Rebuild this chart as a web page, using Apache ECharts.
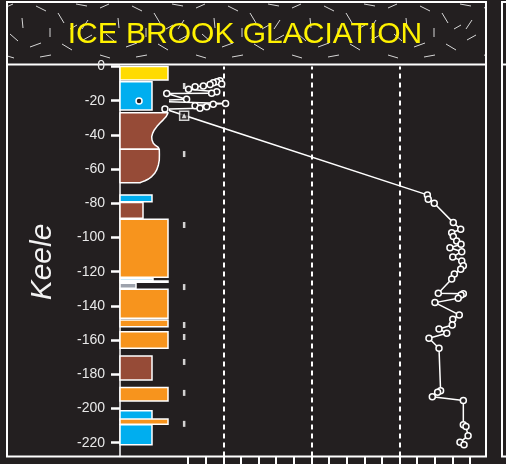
<!DOCTYPE html>
<html>
<head>
<meta charset="utf-8">
<script src="https://cdn.jsdelivr.net/npm/echarts@6/dist/echarts.min.js"></script>
<style>
  html, body { margin: 0; padding: 0; background: #231f20; }
  #chart { width: 506px; height: 464px; }
</style>
</head>
<body>
<div id="chart"></div>
<script>
// Depth axis (m) and its labelled ticks
const depthMin = -228.1;
const depthTicks = [0, -20, -40, -60, -80, -100, -120, -140, -160, -180, -200, -220];

// Proxy axis range and tick positions along the bottom
const proxyMax = 18;
const proxyTicks = [1, 2, 3, 4, 5, 6, 7, 8, 9, 10, 11, 12, 13, 14, 15, 16, 17];
const proxyGuides = [3, 8, 13];

// Rectangular lithologic units: top, base, grain-size index, lithology
const unitTop   = [0,    -8.9,  -75.1, -79.6, -89.4,  -123.9, -125.5, -126.8, -130.3, -148.2, -155.1, -169.3, -187.8, -201.3, -206.1, -209.6];
const unitBase  = [-7.9, -25.4, -79.1, -88.8, -123.3, -125.3, -126.2, -129.7, -147.3, -152.2, -164.8, -183.3, -195.6, -206.7, -209.2, -221.3];
const unitGrain = [4.8,  3.2,   3.2,   2.3,   4.8,    3.3,    4.8,    1.6,    4.8,    4.8,    4.8,    3.2,    4.8,    3.2,    4.8,    3.2];
const unitLith  = ['sand', 'mud', 'mud', 'diamicton', 'gravel', 'laminated', 'blank', 'silt',
                   'gravel', 'gravel', 'gravel', 'diamicton', 'gravel', 'mud', 'gravel', 'mud'];

// Diamicton units with a graded right-hand profile: depth and grain-size index
const profileDepthA = [-27.0, -28.2, -29.4, -31.2, -33.0, -35.0, -37.1, -39.1, -41.1, -43.0, -44.9, -46.2, -47.3, -48.4];
const profileGrainA = [4.8,   4.72,  4.6,   4.32,  4.0,   3.7,   3.43,  3.26,  3.17,  3.2,   3.33,  3.55,  3.83,  3.9];
const profileDepthB = [-48.4, -51.5, -54.7, -57.6, -60.5, -62.6, -64.4, -65.8, -66.8, -67.5, -68.0];
const profileGrainB = [3.93,  3.94,  3.93,  3.84,  3.67,  3.45,  3.17,  2.85,  2.5,   2.2,   2.0];

// Proxy record down the section
const proxyValue = [2.81, 2.63, 2.43, 2.91, 2.25, 1.87, 1.40, 1.03, 2.63, 2.34, -0.21, 0.92, -1.78, 3.13, 2.43, 1.40, 2.06, 1.68, -0.31,
  14.58, 14.63, 14.97, 16.05, 16.47, 15.96, 16.05, 16.24, 16.49, 15.86, 16.53, 16.02, 16.53, 16.62, 16.47, 16.11, 15.96,
  15.20, 16.62, 16.49, 16.33, 15.01, 16.39, 16.02, 15.99, 15.24, 15.68, 14.67, 15.24, 15.33, 15.16, 14.86, 16.62,
  16.62, 16.77, 16.89, 16.43, 16.66];
const proxyDepth = [-8.3, -8.9, -9.5, -10.2, -10.5, -11.4, -11.8, -13.3, -14.7, -15.7, -15.8, -19.2, -20.2, -21.6, -22.1, -22.9, -23.5, -24.4, -24.9,
  -75.1, -77.7, -80.0, -91.3, -95.2, -97.2, -99.5, -102.0, -104.0, -106.0, -108.3, -111.4, -113.7, -116.5, -118.6, -121.3, -124.3,
  -132.6, -132.9, -133.6, -135.6, -138.1, -145.3, -147.8, -151.2, -153.5, -156.0, -158.9, -164.8, -189.6, -190.5, -193.1, -195.4,
  -209.6, -210.6, -215.9, -219.8, -221.3];

// Sample positions and the dated sample
const sampleColumn = 0.78;
const sampleDepth = [-11.4, -51.2, -92.7, -129.0, -151.2, -158.2, -172.8, -190.9, -209.0];
const datedDepth = [-28.8];

const lithColor = {
  sand: '#ffdb00', mud: '#00aeef', diamicton: '#964b37', gravel: '#f7941d',
  laminated: '#cde9f7', blank: '#231f20', silt: '#9da2ac'
};
const BG = '#231f20';

// Patterned fill for the title band
function bandPattern() {
  const c = document.createElement('canvas');
  c.width = 96; c.height = 62;
  const g = c.getContext('2d');
  g.fillStyle = BG; g.fillRect(0, 0, c.width, c.height);
  g.strokeStyle = '#d6d6d6'; g.lineWidth = 1;
  const strokes = [[4,8,13,4],[22,18,23,28],[36,6,46,11],[58,13,64,23],[76,4,87,6],[88,20,82,29],
    [10,34,18,41],[30,47,41,43],[50,28,50,37],[62,44,72,50],[83,40,92,35],[4,55,14,58],[40,57,51,55],[70,29,77,25]];
  strokes.forEach(s => { g.beginPath(); g.moveTo(s[0], s[1]); g.lineTo(s[2], s[3]); g.stroke(); });
  return c;
}

const unitData = unitTop.map((t, i) => [t, unitBase[i], unitGrain[i], i]);
const profiles = [[profileDepthA, profileGrainA], [profileDepthB, profileGrainB]];
const profileData = profiles.map((p, i) => [i, p[0][0], p[0][p[0].length - 1], Math.max.apply(null, p[1])]);

const chart = echarts.init(document.getElementById('chart'), null, { renderer: 'canvas' });

const gridTop = 66.5, gridHeight = 390;

chart.setOption({
  backgroundColor: BG,
  animation: false,
  grid: [
    { left: 120, top: gridTop, width: 50, height: gridHeight },
    { left: 170.4, top: gridTop, width: 317.25, height: gridHeight }
  ],
  xAxis: [
    { gridIndex: 0, type: 'value', min: 0, max: 5, show: false },
    {
      gridIndex: 1, type: 'value', min: 0, max: proxyMax, position: 'bottom',
      axisLine: { show: false, onZero: false },
      axisTick: { show: true, customValues: proxyTicks, length: 8, lineStyle: { color: '#ffffff', width: 2 } },
      axisLabel: { show: false },
      splitLine: { show: false }
    }
  ],
  yAxis: [
    {
      gridIndex: 0, type: 'value', min: depthMin, max: 0, position: 'left',
      axisLine: { show: true, onZero: false, lineStyle: { color: '#ffffff', width: 1.5 } },
      axisTick: { show: true, customValues: depthTicks, length: 9, lineStyle: { color: '#ffffff', width: 2.5 } },
      axisLabel: {
        customValues: depthTicks, color: '#e8e8e8', fontSize: 14, margin: 15,
        fontFamily: 'Liberation Sans, Arial, sans-serif'
      },
      splitLine: { show: false }
    },
    { gridIndex: 1, type: 'value', min: depthMin, max: 0, show: false }
  ],
  graphic: [
    {
      type: 'rect', z: -5, silent: true,
      shape: { x: 7, y: 2, width: 479, height: 62.5 },
      style: { fill: { image: bandPattern(), repeat: 'repeat' }, stroke: '#ffffff', lineWidth: 2 }
    },
    {
      type: 'rect', z: 50, silent: true,
      shape: { x: 7, y: 2, width: 479, height: 454.5 },
      style: { fill: null, stroke: '#ffffff', lineWidth: 2 }
    },
    {
      type: 'rect', z: 50, silent: true,
      shape: { x: 502, y: 2, width: 40, height: 454.5 },
      style: { fill: null, stroke: '#ffffff', lineWidth: 2 }
    },
    {
      type: 'line', z: 50, silent: true,
      shape: { x1: 502, y1: 64.5, x2: 506, y2: 64.5 },
      style: { stroke: '#ffffff', lineWidth: 2 }
    },
    {
      type: 'text', z: 60, silent: true, x: 245, y: 35,
      style: {
        text: 'ICE BROOK GLACIATION', fill: '#fff200', font: '30px "Liberation Sans", Arial, sans-serif',
        textAlign: 'center', textVerticalAlign: 'middle'
      }
    },
    {
      type: 'text', z: 60, silent: true, x: 43, y: 262, rotation: Math.PI / 2,
      style: {
        text: 'Keele', fill: '#f2f2f2', font: 'italic 30px "Liberation Sans", Arial, sans-serif',
        textAlign: 'center', textVerticalAlign: 'middle'
      }
    }
  ],
  series: [
    {
      type: 'custom', xAxisIndex: 0, yAxisIndex: 0, z: 3, silent: true,
      data: unitData,
      encode: { x: 2, y: [0, 1] },
      renderItem: function (params, api) {
        const p0 = api.coord([0, api.value(0)]);
        const p1 = api.coord([api.value(2), api.value(1)]);
        return {
          type: 'rect',
          shape: { x: p0[0], y: p0[1], width: p1[0] - p0[0], height: p1[1] - p0[1] },
          style: { fill: lithColor[unitLith[api.value(3)]], stroke: '#ffffff', lineWidth: 1.5 }
        };
      }
    },
    {
      type: 'custom', xAxisIndex: 0, yAxisIndex: 0, z: 3, silent: true,
      data: profileData,
      encode: { x: 3, y: [1, 2] },
      renderItem: function (params, api) {
        const p = profiles[api.value(0)];
        const depth = p[0], grain = p[1];
        const pts = [api.coord([0, depth[0]])];
        for (let i = 0; i < depth.length; i++) pts.push(api.coord([grain[i], depth[i]]));
        pts.push(api.coord([0, depth[depth.length - 1]]));
        return {
          type: 'polygon',
          shape: { points: pts },
          style: { fill: lithColor.diamicton, stroke: '#ffffff', lineWidth: 1.5, lineJoin: 'round' }
        };
      }
    },
    {
      type: 'line', xAxisIndex: 1, yAxisIndex: 1, z: 6, clip: false, silent: true,
      data: proxyValue.map((v, i) => [v, proxyDepth[i]]),
      symbol: 'circle', symbolSize: 6, showAllSymbol: true,
      lineStyle: { color: '#ffffff', width: 1.5 },
      itemStyle: { color: BG, borderColor: '#ffffff', borderWidth: 1.5 },
      markLine: {
        silent: true, symbol: 'none', label: { show: false },
        lineStyle: { color: '#ffffff', width: 2, type: [5, 4] },
        data: proxyGuides.map(v => ({ xAxis: v }))
      }
    },
    {
      type: 'scatter', xAxisIndex: 1, yAxisIndex: 1, z: 5, silent: true,
      symbol: 'rect', symbolSize: [2.5, 6],
      itemStyle: { color: '#ffffff' },
      data: sampleDepth.map(d => [sampleColumn, d])
    },
    {
      type: 'scatter', xAxisIndex: 1, yAxisIndex: 1, z: 7, silent: true,
      symbol: 'rect', symbolSize: 9,
      itemStyle: { color: BG, borderColor: '#ffffff', borderWidth: 1.5 },
      data: datedDepth.map(d => [sampleColumn, d])
    },
    {
      type: 'scatter', xAxisIndex: 1, yAxisIndex: 1, z: 8, silent: true,
      symbol: 'triangle', symbolSize: 5,
      itemStyle: { color: '#ffffff' },
      data: datedDepth.map(d => [sampleColumn, d])
    }
  ]
});
</script>
</body>
</html>
